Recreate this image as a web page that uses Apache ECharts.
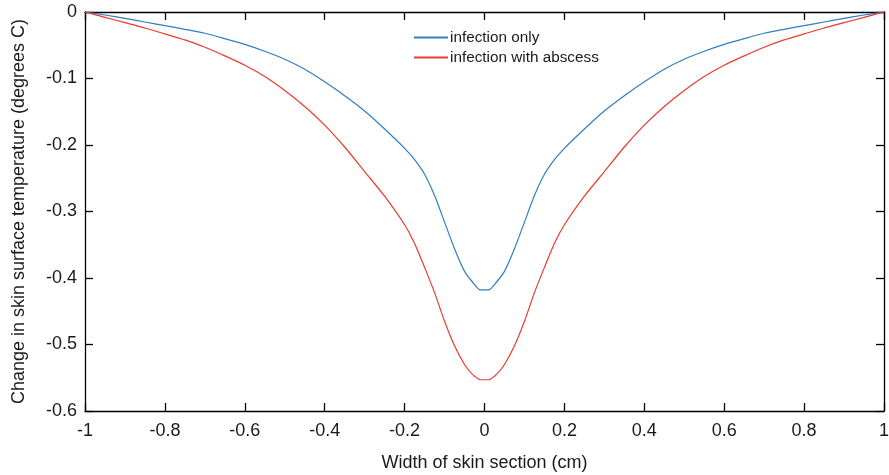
<!DOCTYPE html>
<html><head><meta charset="utf-8">
<script src="https://cdn.jsdelivr.net/npm/echarts@6/dist/echarts.min.js"></script>
<style>html,body{margin:0;padding:0;background:#fff}#c{width:889px;height:475px}</style>
</head><body><div id="c"></div>
<script>
// Left half x positions (curves are symmetric about x = 0)
var xLeft = [-1.0,-0.95,-0.9,-0.85,-0.8,-0.75,-0.7,-0.65,-0.6,-0.55,-0.5,-0.45,-0.4,-0.35,-0.3,-0.25,-0.2,-0.175,-0.15,-0.125,-0.1,-0.075,-0.05,-0.03,-0.01];
var infectionOnlyLeft = [0,-0.0045,-0.0095,-0.015,-0.0205,-0.026,-0.032,-0.040,-0.0486,-0.059,-0.071,-0.086,-0.105,-0.126,-0.149,-0.176,-0.205,-0.222,-0.244,-0.276,-0.316,-0.356,-0.390,-0.406,-0.418];
var withAbscessLeft = [0,-0.008,-0.016,-0.024,-0.033,-0.042,-0.053,-0.066,-0.080,-0.097,-0.118,-0.142,-0.170,-0.203,-0.240,-0.277,-0.320,-0.348,-0.384,-0.422,-0.465,-0.502,-0.530,-0.545,-0.553];
var xTicks = [-1,-0.8,-0.6,-0.4,-0.2,0,0.2,0.4,0.6,0.8,1];
var yTicks = [0,-0.1,-0.2,-0.3,-0.4,-0.5,-0.6];
var seriesNames = ['infection only','infection with abscess'];

function mirror(xs, ys){
  var pts = [];
  for (var i=0;i<xs.length;i++) pts.push([xs[i], ys[i]]);
  for (var j=xs.length-1;j>=0;j--) pts.push([-xs[j], ys[j]]);
  return pts;
}
function fmt(v){ return String(Math.round(v*10)/10); }

var font = '"Liberation Sans", Arial, sans-serif';
var axisLineStyle = {color:'#000', width:1.3};
function tickStyle(){ return {show:true, inside:true, length:8, lineStyle:{color:'#000', width:1.3}}; }
var chart = echarts.init(document.getElementById('c'), null, {renderer:'canvas'});
chart.setOption({
  animation:false,
  backgroundColor:'#fff',
  grid:{left:85, right:5, top:12, bottom:64, containLabel:false, outerBoundsMode:'none'},
  legend:{
    orient:'vertical', left:409, top:25, itemGap:5,
    itemWidth:34, itemHeight:2, icon:'rect',
    textStyle:{fontFamily:font, fontSize:15.3, color:'#1a1a1a', padding:[0,0,0,-3]},
    data:seriesNames
  },
  xAxis:[{
    type:'value', min:-1, max:1, interval:0.2, position:'bottom',
    axisLine:{show:true, onZero:false, lineStyle:axisLineStyle},
    axisTick:tickStyle(),
    splitLine:{show:false},
    axisLabel:{fontFamily:font, fontSize:18, color:'#1a1a1a', margin:11, formatter:fmt},
    name:'Width of skin section (cm)', nameLocation:'middle', nameGap:43,
    nameTextStyle:{fontFamily:font, fontSize:18, color:'#1a1a1a'}
  },{
    type:'value', min:-1, max:1, interval:0.2, position:'top',
    axisLine:{show:true, onZero:false, lineStyle:axisLineStyle},
    axisTick:tickStyle(),
    axisLabel:{show:false}, splitLine:{show:false}
  }],
  yAxis:[{
    type:'value', min:-0.6, max:0, interval:0.1, position:'left',
    axisLine:{show:true, onZero:false, lineStyle:axisLineStyle},
    axisTick:tickStyle(),
    splitLine:{show:false},
    axisLabel:{fontFamily:font, fontSize:18, color:'#1a1a1a', margin:8, formatter:fmt},
    name:'Change in skin surface temperature (degrees C)', nameLocation:'middle', nameGap:57,
    nameTextStyle:{fontFamily:font, fontSize:18, color:'#1a1a1a'}
  },{
    type:'value', min:-0.6, max:0, interval:0.1, position:'right',
    axisLine:{show:true, onZero:false, lineStyle:axisLineStyle},
    axisTick:tickStyle(),
    axisLabel:{show:false}, splitLine:{show:false}
  }],
  series:[{
    name:seriesNames[0], type:'line', showSymbol:false, symbol:'none',
    smooth:0.25,
    data:mirror(xLeft, infectionOnlyLeft),
    lineStyle:{color:'#2f7ec4', width:1.2}, itemStyle:{color:'#2f7ec4'}
  },{
    name:seriesNames[1], type:'line', showSymbol:false, symbol:'none',
    smooth:0.25,
    data:mirror(xLeft, withAbscessLeft),
    lineStyle:{color:'#ec3a2e', width:1.2}, itemStyle:{color:'#ec3a2e'}
  }]
});
</script></body></html>
